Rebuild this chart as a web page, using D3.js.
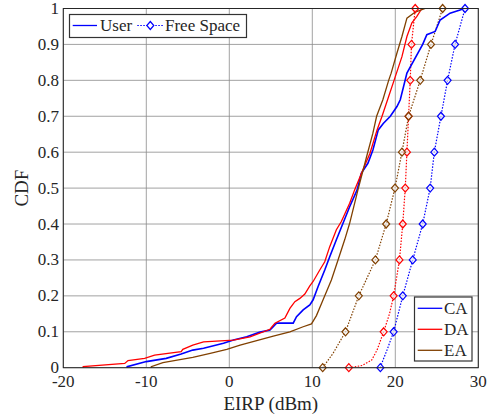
<html>
<script src='https://d3js.org/d3.v7.min.js'></script>
<style>
body {margin: 0; background: white;}
text {font-family: 'Liberation Serif', serif; fill: #262626;}
</style>
<body>
<svg width=493 height=418></svg>
<script>
// empirical CDFs, [EIRP dBm, probability]
var caUser = [[-12.3,0],[-12.3,0.003],[-10.0,0.017],[-7.6,0.026],[-5.8,0.038],[-4.4,0.049],[-3.1,0.054],[-0.7,0.068],[0.5,0.077],[2.1,0.086],[3.7,0.099],[4.9,0.105],[5.7,0.124],[7.7,0.124],[8.1,0.142],[8.9,0.161],[9.7,0.175],[10.1,0.189],[10.7,0.226],[11.5,0.272],[12.1,0.309],[12.9,0.356],[13.7,0.402],[14.5,0.448],[15.4,0.495],[15.9,0.541],[16.7,0.569],[17.3,0.606],[17.95,0.662],[18.55,0.68],[19.4,0.7],[20.2,0.727],[20.6,0.746],[21.4,0.82],[23.3,0.9],[23.8,0.927],[24.8,0.936],[25.4,0.968],[26.6,0.987],[27.8,0.996],[28.3,1.0]]
var daUser = [[-17.6,0],[-17.6,0.003],[-12.6,0.012],[-12.2,0.02],[-10.2,0.026],[-9.0,0.035],[-5.8,0.045],[-5.6,0.051],[-4.4,0.063],[-3.1,0.072],[0.5,0.077],[2.5,0.086],[4.9,0.107],[5.5,0.124],[6.7,0.138],[7.3,0.165],[7.9,0.184],[8.5,0.193],[9.1,0.205],[9.7,0.228],[10.1,0.24],[10.9,0.272],[11.5,0.295],[12.1,0.337],[12.9,0.384],[13.5,0.407],[14.5,0.458],[15.1,0.495],[16.1,0.551],[16.95,0.597],[17.8,0.662],[18.4,0.7],[19.2,0.755],[19.85,0.8],[20.8,0.866],[21.4,0.922],[22.0,0.96],[22.6,0.978],[23.2,1.0]]
var eaUser = [[-9.4,0],[-9.4,0.003],[-8.0,0.014],[-4.4,0.029],[-2.3,0.04],[-0.3,0.051],[1.3,0.063],[5.3,0.088],[7.3,0.1],[8.9,0.114],[9.9,0.122],[10.5,0.145],[11.3,0.189],[12.3,0.244],[13.1,0.3],[13.9,0.356],[14.5,0.402],[15.5,0.495],[16.55,0.588],[17.3,0.653],[17.75,0.7],[18.5,0.746],[19.2,0.8],[19.5,0.82],[20.2,0.876],[20.8,0.922],[21.4,0.973],[22.4,0.99],[23.6,1.0]]

var caFree = [[18.2,0],[18.5,0.02],[19.0,0.049],[19.8,0.1],[20.9,0.2],[22.1,0.3],[23.3,0.4],[24.2,0.5],[24.7,0.6],[25.5,0.7],[26.3,0.8],[27.2,0.9],[28.4,1.0]]
var daFree = [[14.4,0],[16.0,0.006],[17.15,0.021],[17.8,0.049],[18.6,0.1],[19.3,0.15],[19.8,0.2],[20.5,0.3],[20.9,0.4],[21.2,0.5],[21.4,0.6],[21.6,0.7],[21.8,0.8],[21.95,0.9],[22.4,1.0]]
var eaFree = [[11.25,0],[12.5,0.04],[14.0,0.1],[15.6,0.2],[17.6,0.3],[18.9,0.4],[19.96,0.5],[20.8,0.6],[21.6,0.7],[23.0,0.8],[24.3,0.9],[25.7,1.0]]

var xTicks = [-20,-10,0,10,20,30]
var yTicks = [0,0.1,0.2,0.3,0.4,0.5,0.6,0.7,0.8,0.9,1]
var names = ["CA","DA","EA"]
var colors = ["#0000ff","#ff0000","#804000"]

var pLeft = 63.3, pRight = 478.3, pTop = 8.5, pBottom = 367.7

var x = d3.scaleLinear().domain([-20,30]).range([pLeft,pRight])
var y = d3.scaleLinear().domain([0,1]).range([pBottom,pTop])

var svg = d3.select("svg")

// grid
svg.append("g").selectAll("line").data(xTicks).enter().append("line")
  .attr("x1", d => x(d)).attr("x2", d => x(d)).attr("y1", pTop).attr("y2", pBottom)
  .attr("stroke", "#8a8a8a").attr("stroke-width", 0.8)
svg.append("g").selectAll("line").data(yTicks).enter().append("line")
  .attr("y1", d => y(d)).attr("y2", d => y(d)).attr("x1", pLeft).attr("x2", pRight)
  .attr("stroke", "#8a8a8a").attr("stroke-width", 0.8)

var line = d3.line().x(d => x(d[0])).y(d => y(d[1]))

var users = [caUser, daUser, eaUser]
var frees = [caFree, daFree, eaFree]

frees.forEach(function(s, i) {
  svg.append("path").attr("d", line(s)).attr("fill", "none")
    .attr("stroke", colors[i]).attr("stroke-width", 1.2).attr("stroke-dasharray", "1.5,1.5")
})
users.forEach(function(s, i) {
  svg.append("path").attr("d", line(s)).attr("fill", "none")
    .attr("stroke", colors[i]).attr("stroke-width", i == 0 ? 1.6 : 1.3)
})

var diamond = "M0,-4L3.5,0L0,4L-3.5,0Z"
frees.forEach(function(s, i) {
  var marks = s.filter(d => Math.abs(d[1]*10 - Math.round(d[1]*10)) < 1e-6)
  svg.append("g").selectAll("path").data(marks).enter().append("path")
    .attr("d", diamond)
    .attr("transform", d => "translate(" + x(d[0]) + "," + y(d[1]) + ")")
    .attr("fill", "white").attr("fill-opacity", 0.6)
    .attr("stroke", colors[i]).attr("stroke-width", 1.2)
})

// axes box
svg.append("rect").attr("x", pLeft).attr("y", pTop).attr("width", pRight-pLeft).attr("height", pBottom-pTop)
  .attr("fill", "none").attr("stroke", "#262626").attr("stroke-width", 1)

svg.append("g").selectAll("text").data(xTicks).enter().append("text")
  .attr("x", d => x(d)).attr("y", 387).attr("text-anchor", "middle")
  .style("font-size", "17px").text(d => d)
svg.append("g").selectAll("text").data(yTicks).enter().append("text")
  .attr("x", 59).attr("y", d => y(d) + 5.5).attr("text-anchor", "end")
  .style("font-size", "17px").text(d => d)

svg.append("text").attr("x", (pLeft+pRight)/2).attr("y", 410).attr("text-anchor", "middle")
  .style("font-size", "19px").text("EIRP (dBm)")
svg.append("text").attr("transform", "translate(28," + (pTop+pBottom)/2 + ") rotate(-90)")
  .attr("text-anchor", "middle").style("font-size", "19px").text("CDF")

// legend: line style
svg.append("rect").attr("x", 69.5).attr("y", 14.5).attr("width", 177).attr("height", 23)
  .attr("fill", "white").attr("stroke", "#333").attr("stroke-width", 1.2)
svg.append("line").attr("x1", 72.7).attr("x2", 97).attr("y1", 25.5).attr("y2", 25.5)
  .attr("stroke", "#0000ff").attr("stroke-width", 1.3)
svg.append("text").attr("x", 100).attr("y", 31).style("font-size", "17px").text("User")
svg.append("line").attr("x1", 137.3).attr("x2", 163.3).attr("y1", 25.5).attr("y2", 25.5)
  .attr("stroke", "#0000ff").attr("stroke-width", 1.2).attr("stroke-dasharray", "1.5,1.5")
svg.append("path").attr("d", diamond).attr("transform", "translate(150.3,25.5)")
  .attr("fill", "white").attr("stroke", "#0000ff").attr("stroke-width", 1.2)
svg.append("text").attr("x", 165).attr("y", 31).style("font-size", "17px").text("Free Space")

// legend: location
svg.append("rect").attr("x", 414.5).attr("y", 297).attr("width", 57.5).attr("height", 64)
  .attr("fill", "white").attr("stroke", "#333").attr("stroke-width", 1.2)
var lg = svg.append("g").selectAll("g").data(names).enter().append("g")
  .attr("transform", (d, i) => "translate(0," + (308.3 + i*21) + ")")
lg.append("line").attr("x1", 417.7).attr("x2", 442.3)
  .attr("stroke", (d, i) => colors[i]).attr("stroke-width", 1.3)
lg.append("text").attr("x", 444).attr("y", 5.5).style("font-size", "17px").text(d => d)
</script>
</body>
</html>
